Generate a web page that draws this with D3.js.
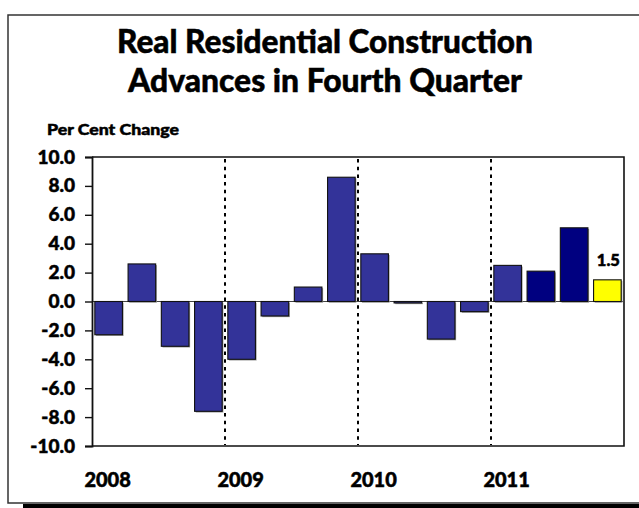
<!DOCTYPE html>
<html>
<head>
<meta charset="utf-8">
<script src="https://cdn.jsdelivr.net/npm/d3@7"></script>
<style>
  html, body { margin: 0; padding: 0; background: #fff; }
  svg { display: block; }
  text { font-family: Lato, "DejaVu Sans", sans-serif; font-weight: 900; fill: #000; stroke: #000; stroke-width: 0.5; }
</style>
</head>
<body>
<svg id="chart" width="639" height="508"></svg>
<script>
// ---- data ----
const titleLines = ["Real Residential Construction", "Advances in Fourth Quarter"];
const yAxisTitle = "Per Cent Change";
const years = ["2008", "2009", "2010", "2011"];
const quarters = ["2008Q1","2008Q2","2008Q3","2008Q4",
                  "2009Q1","2009Q2","2009Q3","2009Q4",
                  "2010Q1","2010Q2","2010Q3","2010Q4",
                  "2011Q1","2011Q2","2011Q3","2011Q4"];
const values = [-2.3, 2.6, -3.1, -7.6, -4.0, -1.0, 1.0, 8.6, 3.3, -0.1, -2.6, -0.7, 2.5, 2.1, 5.1, 1.5];
const groups = ["past","past","past","past","past","past","past","past",
                "past","past","past","past","past","recent","recent","latest"];
const yTicks = [-10, -8, -6, -4, -2, 0, 2, 4, 6, 8, 10];
const labelledQuarter = "2011Q4";

// ---- layout ----
const svg = d3.select("#chart");
const plot = { left: 92, right: 624, top: 157, bottom: 446 };

// outer frame with shadow
svg.append("rect").attr("x", 23).attr("y", 504).attr("width", 700).attr("height", 6).attr("fill", "#000");
svg.append("rect").attr("x", 8).attr("y", 15).attr("width", 700).attr("height", 488)
  .attr("fill", "#fff").attr("stroke", "#333").attr("stroke-width", 1.5);

// title
const tWidths = [416, 394];
svg.selectAll("text.title").data(titleLines).join("text")
  .attr("class", "title")
  .attr("x", 325).attr("y", (d, i) => 53 + i * 39)
  .attr("text-anchor", "middle")
  .attr("font-size", 32)
  .attr("stroke-width", 0.9)
  .attr("textLength", (d, i) => tWidths[i])
  .attr("lengthAdjust", "spacingAndGlyphs")
  .text(d => d);

svg.append("text").attr("x", 47).attr("y", 135)
  .attr("font-size", 15.5).attr("stroke-width", 0.4)
  .attr("textLength", 132).attr("lengthAdjust", "spacingAndGlyphs")
  .text(yAxisTitle);

// scales
const x = d3.scaleBand().domain(quarters).range([plot.left, plot.right])
  .paddingInner(0.17).paddingOuter(0.085);
const y = d3.scaleLinear().domain([-10, 10]).range([plot.bottom, plot.top]);
const color = d3.scaleOrdinal().domain(["past","recent","latest"]).range(["#333399","#000080","#FFFF00"]);

// year separators (dotted)
const step = x.step();
const sepQuarters = quarters.filter((q, i) => i > 0 && i % 4 === 0);
svg.selectAll("line.sep").data(sepQuarters).join("line")
  .attr("class", "sep")
  .attr("x1", d => x(d) - step * x.paddingInner() / 2)
  .attr("x2", d => x(d) - step * x.paddingInner() / 2)
  .attr("y1", y(10) + 2).attr("y2", y(-10) - 1)
  .attr("stroke", "#000").attr("stroke-width", 2).attr("stroke-dasharray", "3.5,4.2");

// plot frame top/right/bottom
svg.append("path")
  .attr("d", `M${plot.left},${y(10)}H${plot.right}V${y(-10)}H${plot.left}`)
  .attr("fill", "none").attr("stroke", "#111").attr("stroke-width", 1.6);

// zero line
svg.append("line").attr("x1", plot.left).attr("x2", plot.right)
  .attr("y1", y(0)).attr("y2", y(0)).attr("stroke", "#444").attr("stroke-width", 1.2);

// bars: shadow then bar
const data = quarters.map((q, i) => ({ q, v: values[i], g: groups[i] }));
svg.selectAll("rect.shadow").data(data).join("rect")
  .attr("class", "shadow")
  .attr("x", d => x(d.q) + 1.2)
  .attr("y", d => Math.min(y(d.v), y(0)) + 1.2)
  .attr("width", x.bandwidth())
  .attr("height", d => Math.max(1, Math.abs(y(d.v) - y(0))))
  .attr("fill", "#999");
svg.selectAll("rect.bar").data(data).join("rect")
  .attr("class", "bar")
  .attr("x", d => x(d.q))
  .attr("y", d => Math.min(y(d.v), y(0)))
  .attr("width", x.bandwidth())
  .attr("height", d => Math.max(0.6, Math.abs(y(d.v) - y(0))))
  .attr("fill", d => color(d.g))
  .attr("stroke", "#111").attr("stroke-width", 1.1);

// value label
const lab = data.find(d => d.q === labelledQuarter);
svg.append("text")
  .attr("x", x(lab.q) + x.bandwidth() / 2 + 1)
  .attr("y", y(lab.v) - 14)
  .attr("text-anchor", "middle").attr("font-size", 16.5)
  .text(lab.v.toFixed(1));

// y axis
const yAxis = d3.axisLeft(y).tickValues(yTicks).tickFormat(d => d.toFixed(1)).tickSize(7).tickPadding(10);
const ga = svg.append("g").attr("transform", `translate(${plot.left},0)`).call(yAxis);
ga.select(".domain").attr("stroke", "#111").attr("stroke-width", 1.8);
ga.selectAll(".tick line").attr("stroke", "#111").attr("stroke-width", 1.4);
ga.selectAll(".tick text").attr("font-size", 19).attr("font-family", "Lato, sans-serif")
  .attr("font-weight", 900).attr("fill", "#000").attr("stroke", "#000").attr("stroke-width", 0.6);

// year labels
svg.selectAll("text.year").data(years).join("text")
  .attr("class", "year")
  .attr("x", (d, i) => x(quarters[i * 4]) + x.bandwidth() / 2 - 1)
  .attr("y", 487)
  .attr("text-anchor", "middle").attr("font-size", 20).attr("stroke-width", 0.6)
  .text(d => d);
</script>
</body>
</html>
